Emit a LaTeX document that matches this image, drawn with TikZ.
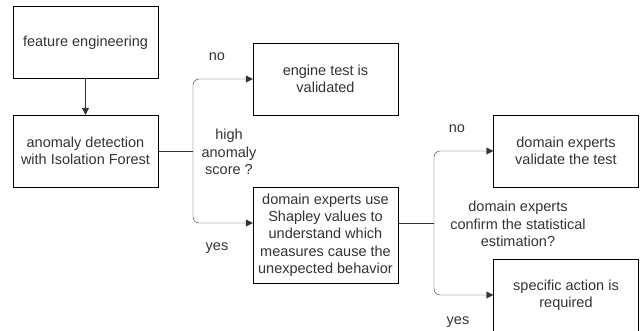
\documentclass[tikz,border=0pt]{standalone}
\usepackage{fontspec}
\setmainfont{Liberation Sans}
\usetikzlibrary{arrows.meta, positioning}

\begin{document}
\begin{tikzpicture}[x=1pt, y=-1pt, font=\fontsize{14.5}{17.3}\selectfont,
    box/.style = {draw, inner sep=2pt, minimum width=145pt, minimum height=72pt, align=center, text=black!80},
    flow/.style = {draw=black!80, -{Triangle[length=7pt, width=7pt]}, rounded corners=6pt},
    lbl/.style = {align=center, text=black!80}]
    \useasboundingbox (0,0) rectangle (641,330);
    % left column
    \node[box] (feat) at (85.5,42.5) {feature engineering};
    \node[box] (anom) at (85.5,151) {anomaly detection\\with Isolation Forest};
    % first decision
    \node[box] (valid) at (325.5,79) {engine test is\\validated};
    \node[box, minimum height=96pt] (shap) at (325.5,235) {domain experts use\\Shapley values to\\understand which\\measures cause the\\unexpected behavior};
    % second decision
    \node[box] (expval) at (566,151) {domain experts\\validate the test};
    \node[box] (action) at (566,295) {specific action is\\required};
    \coordinate (fork1) at (193,151);
    \coordinate (fork2) at (434,223);
    \draw[flow] (feat) -- (anom);
    \draw[draw=black!80] (anom) -- (fork1);
    \draw[flow] (fork1) |- (valid);
    \draw[flow] (fork1) |- ([yshift=12pt]shap.west);
    \draw[draw=black!80] ([yshift=12pt]shap.east) -- (fork2);
    \draw[flow] (fork2) |- (expval);
    \draw[flow] (fork2) |- (action);
    % labels
    \node[lbl] (no1) at (217,57) {no};
    \node[lbl] (ask1) at (229,152) {high\\anomaly\\score ?};
    \node[lbl] (yes1) at (217,248) {yes};
    \node[lbl] (no2) at (457,129) {no};
    \node[lbl] (ask2) at (518,224) {domain experts\\confirm the statistical\\estimation?};
    \node[lbl] (yes2) at (458,322) {yes};
\end{tikzpicture}
\end{document}
